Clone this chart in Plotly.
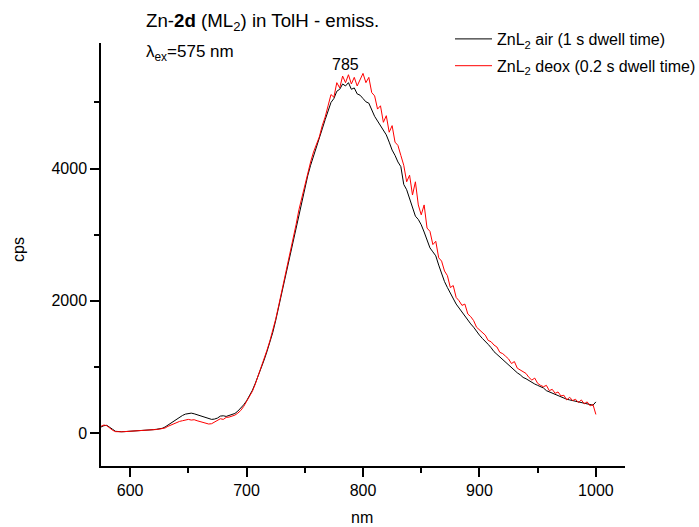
import numpy as np
import plotly.graph_objects as go

# Emission wavelength grid (nm), 2.5 nm sampling
wavelength = np.arange(575.0, 1000.0 + 0.01, 2.5).tolist()

# ZnL2 in air, 1 s dwell time (cps)
cps_air = [
    90, 110, 115, 90, 55, 25, 18, 18, 20, 22,
    25, 27, 30, 33, 36, 40, 44, 47, 50, 55,
    60, 70, 90, 120, 155, 185, 215, 245, 265, 285,
    295, 300, 290, 275, 255, 240, 225, 210, 205, 210,
    225, 255, 260, 250, 265, 275, 295, 330, 375, 425,
    485, 560, 645, 750, 860, 980, 1100, 1230, 1360, 1520,
    1700, 1900, 2100, 2300, 2500, 2700, 2900, 3120, 3330, 3530,
    3720, 3890, 4050, 4180, 4330, 4440, 4600, 4740, 4870, 5000,
    5060, 5170, 5200, 5280, 5250, 5300, 5200, 5220, 5130, 5110,
    5060, 5010, 4990, 4890, 4790, 4720, 4650, 4580, 4510, 4400,
    4280, 4200, 4100, 4030, 3760, 3680, 3540, 3430, 3280, 3230,
    3150, 3040, 2930, 2800, 2740, 2680, 2540, 2400, 2290, 2200,
    2110, 2030, 1950, 1890, 1830, 1760, 1710, 1650, 1600, 1530,
    1480, 1430, 1390, 1340, 1290, 1230, 1190, 1150, 1110, 1060,
    1030, 990, 950, 910, 880, 840, 820, 790, 770, 740,
    720, 700, 680, 640, 620, 610, 590, 560, 550, 530,
    510, 500, 490, 480, 470, 460, 450, 440, 430, 420,
    470,
]

# ZnL2 deoxygenated, 0.2 s dwell time (cps)
cps_deox = [
    100, 120, 110, 70, 40, 20, 15, 18, 20, 22,
    25, 27, 30, 32, 35, 38, 42, 45, 48, 52,
    58, 65, 75, 100, 120, 145, 160, 175, 185, 200,
    205, 195, 200, 185, 175, 160, 150, 135, 140, 165,
    190, 215, 205, 235, 240, 250, 270, 300, 340, 400,
    470, 540, 630, 740, 860, 990, 1120, 1250, 1390, 1550,
    1720, 1920, 2120, 2320, 2530, 2740, 2950, 3150, 3380, 3560,
    3760, 3900, 4100, 4250, 4380, 4480, 4650, 4780, 4950, 5120,
    5080, 5300, 5220, 5400, 5300, 5420, 5280, 5380, 5250, 5350,
    5440, 5300, 5380, 5150, 5100, 4900, 4950, 4700, 4800, 4550,
    4650, 4400, 4350, 4200, 4050, 3800, 3900, 3600, 3800, 3450,
    3300, 3450, 3100, 3050, 2850, 2900, 2650, 2600, 2450, 2380,
    2200, 2230, 2050, 2000, 1930, 1950, 1800, 1760, 1700, 1600,
    1560, 1520, 1480, 1400, 1380, 1330, 1300, 1220, 1200, 1160,
    1120, 1050, 1080, 980, 950, 920, 900, 840, 800, 830,
    750, 720, 700, 720, 640, 660, 600, 620, 560, 570,
    500, 540, 490, 510, 460, 500, 440, 470, 410, 430,
    280,
]

series_names = [
    "ZnL<sub>2</sub> air (1 s dwell time)",
    "ZnL<sub>2</sub> deox (0.2 s dwell time)",
]
series_colors = ["#000000", "#ff0000"]

x_ticks = [600, 700, 800, 900, 1000]
y_ticks = [0, 2000, 4000]
peak_label = 785
peak_label_y = 5570

W, H = 699, 527
L, R, T, B = 101, 74, 43, 61
PW, PH = W - L - R, H - T - B
FONT = "Liberation Sans, Arial, sans-serif"


def px(xp):
    return (xp - L) / PW


def py(yp):
    return (H - B - yp) / PH


fig = go.Figure()
for name, ys, col in zip(series_names, [cps_air, cps_deox], series_colors):
    fig.add_trace(go.Scatter(
        x=wavelength, y=ys, mode="lines", name=name,
        line=dict(color=col, width=1), legendgroup=name,
    ))

axis_common = dict(
    showline=True, linecolor="black", linewidth=1.5,
    ticks="outside", ticklen=9, tickwidth=1.5, tickcolor="black",
    showgrid=False, zeroline=False, mirror=False,
    tickfont=dict(family=FONT, size=16, color="black"),
    automargin=False,
)

fig.update_xaxes(
    range=[575, 1025], tickvals=x_ticks,
    minor=dict(dtick=50, tick0=0, ticks="outside", ticklen=5,
               tickwidth=1.5, tickcolor="black"),
    **axis_common,
)
fig.update_yaxes(
    range=[-500, 5900], tickvals=y_ticks,
    minor=dict(dtick=1000, tick0=0, ticks="outside", ticklen=5,
               tickwidth=1.5, tickcolor="black"),
    **axis_common,
)

annotations = [
    dict(text="Zn-<b>2d</b> (ML<sub>2</sub>) in TolH - emiss.",
         x=px(144), y=py(22), xanchor="left", yanchor="middle",
         font=dict(size=18.7)),
    dict(text="λ<sub>ex</sub>=575 nm",
         x=px(144), y=py(53), xanchor="left", yanchor="middle",
         font=dict(size=17)),
    dict(text="cps", x=px(18), y=py(250), textangle=-90,
         xanchor="center", yanchor="middle", font=dict(size=16)),
    dict(text="nm", x=px(362), y=py(517),
         xanchor="center", yanchor="middle", font=dict(size=16)),
]
for a in annotations:
    a.update(xref="paper", yref="paper", showarrow=False)
    a["font"].update(family=FONT, color="black")

annotations.append(dict(
    text=str(peak_label), x=peak_label, y=peak_label_y,
    xref="x", yref="y", showarrow=False, yanchor="middle",
    font=dict(family=FONT, size=16, color="black"),
))

fig.update_layout(
    width=W, height=H,
    margin=dict(l=L, r=R, t=T, b=B, autoexpand=False),
    plot_bgcolor="white", paper_bgcolor="white",
    font=dict(family=FONT, color="black"),
    annotations=annotations,
    legend=dict(
        x=px(450), y=py(22), xanchor="left", yanchor="top",
        bgcolor="rgba(0,0,0,0)", borderwidth=0,
        font=dict(family=FONT, size=16, color="black"),
        tracegroupgap=3, itemwidth=37,
    ),
)

fig.write_html("out.html")
